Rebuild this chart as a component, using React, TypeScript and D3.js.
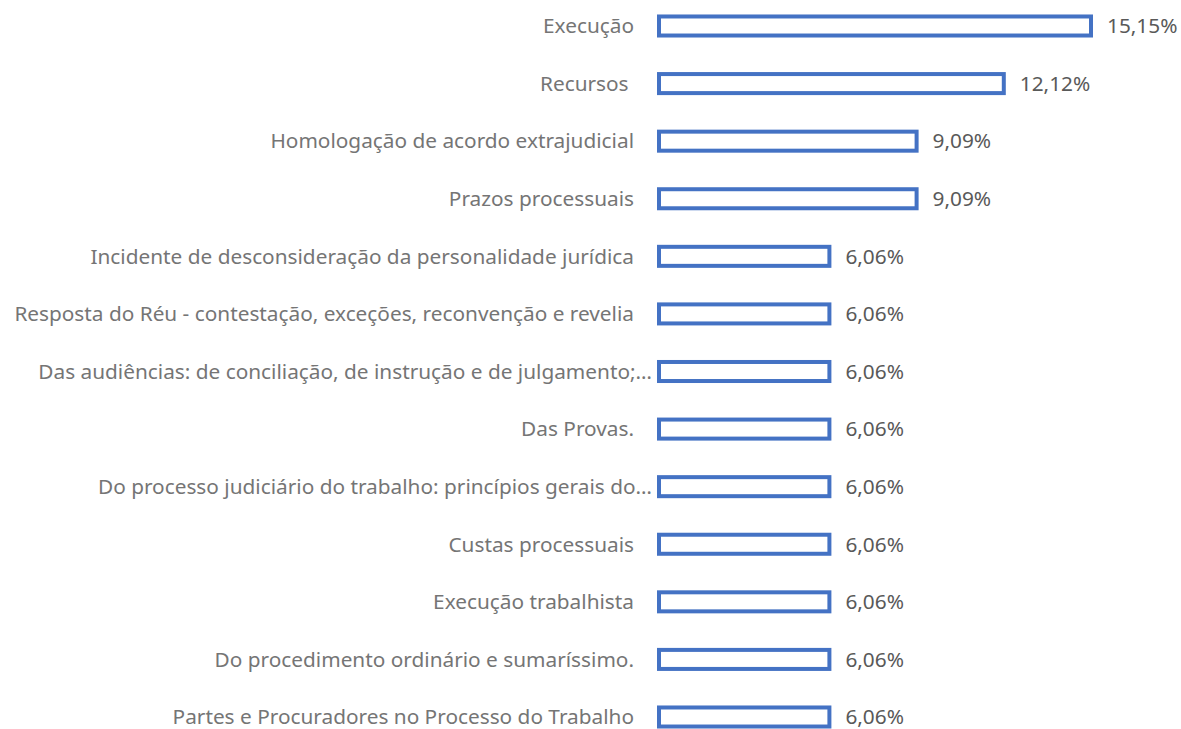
import React from "react";
import * as d3 from "d3";

const categories = [
  "Execução",
  "Recursos ",
  "Homologação de acordo extrajudicial",
  "Prazos processuais",
  "Incidente de desconsideração da personalidade jurídica",
  "Resposta do Réu - contestação, exceções, reconvenção e revelia",
  "Das audiências: de conciliação, de instrução e de julgamento;…",
  "Das Provas.",
  "Do processo judiciário do trabalho: princípios gerais do…",
  "Custas processuais",
  "Execução trabalhista",
  "Do procedimento ordinário e sumaríssimo.",
  "Partes e Procuradores no Processo do Trabalho",
];

const values = [15.15, 12.12, 9.09, 9.09, 6.06, 6.06, 6.06, 6.06, 6.06, 6.06, 6.06, 6.06, 6.06];

const valueLabels = values.map((v) => v.toFixed(2).replace(".", ",") + "%");

export default function App() {
  const width = 1181;
  const height = 729;
  const barLeft = 657;
  const labelRight = 634;
  const stroke = 4;
  const step = (717 - 26) / (categories.length - 1);

  const x = d3.scaleLinear().domain([0, 15.15]).range([0, 436]);

  // bandas: paddingOuter = paddingInner / 2 para que o passo seja exato
  const y = d3
    .scaleBand<string>()
    .domain(categories)
    .range([26 - step / 2, 717 + step / 2])
    .paddingInner(0.6)
    .paddingOuter(0.3);

  const font = "'Noto Sans', 'Open Sans', sans-serif";
  const fontSize = 20.8;

  return (
    <svg
      width={width}
      height={height}
      style={{ position: "absolute", left: 0, top: 0 }}
      fontFamily={font}
    >
      <rect width={width} height={height} fill="#fff" />
      {categories.map((c, i) => {
        const y0 = y(c) ?? 0;
        const bw = y.bandwidth();
        const w = x(values[i]);
        const cy = y0 + bw / 2;
        const truncated = c.endsWith("…");
        return (
          <g key={i}>
            <text
              x={truncated ? 652 : labelRight}
              y={cy}
              dy="0.35em"
              textAnchor="end"
              fontSize={fontSize}
              fill="#757575"
              style={{ whiteSpace: "pre" }}
            >
              {c}
            </text>
            <rect
              x={barLeft + stroke / 2}
              y={y0 + stroke / 2}
              width={w - stroke}
              height={bw - stroke}
              fill="#fff"
              stroke="#4472C4"
              strokeWidth={stroke}
            />
            <text
              x={barLeft + w + 14}
              y={cy}
              dy="0.35em"
              fontSize={fontSize}
              fill="#595959"
            >
              {valueLabels[i]}
            </text>
          </g>
        );
      })}
    </svg>
  );
}
